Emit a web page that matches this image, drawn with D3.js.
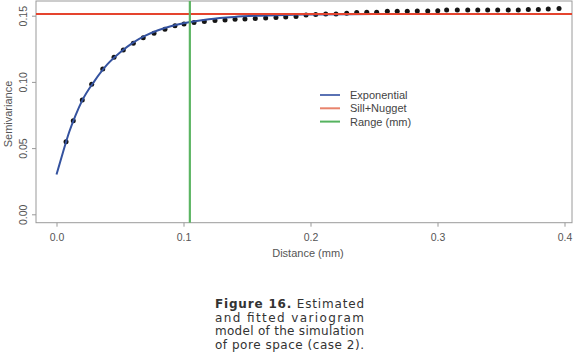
<!DOCTYPE html>
<html>
<head>
<meta charset="utf-8">
<script src="https://cdn.jsdelivr.net/npm/d3@7"></script>
<style>
  body { margin: 0; background: #fff; }
  svg { display: block; }
</style>
</head>
<body>
<div id="chart-area"></div>
<script>
// empirical semivariance (dots)
var lagDist = [0.0075, 0.0132, 0.0203, 0.0277, 0.0364, 0.0453, 0.0526, 0.0605, 0.0683, 0.0768,
  0.0854, 0.0933, 0.1004, 0.1083, 0.1164, 0.1248, 0.1327, 0.1406, 0.1484, 0.1565,
  0.1647, 0.1728, 0.1805, 0.1886, 0.1965, 0.2041, 0.2120, 0.2201, 0.2285, 0.2364,
  0.2443, 0.2521, 0.2605, 0.2683, 0.2762, 0.2841, 0.2923, 0.3002, 0.3072, 0.3156,
  0.3238, 0.3317, 0.3395, 0.3474, 0.3557, 0.3636, 0.3715, 0.3794, 0.3872, 0.3957];
var lagGamma = [0.0548, 0.0707, 0.0863, 0.0982, 0.1097, 0.1186, 0.1241, 0.1292, 0.1334, 0.1367,
  0.1397, 0.1424, 0.1437, 0.1449, 0.1456, 0.1464, 0.1468, 0.1473, 0.1475, 0.1479,
  0.1483, 0.1486, 0.1490, 0.1494, 0.1505, 0.1510, 0.1513, 0.1513, 0.1518, 0.1524,
  0.1526, 0.1526, 0.1533, 0.1533, 0.1533, 0.1535, 0.1535, 0.1538, 0.1543, 0.1543,
  0.1543, 0.1543, 0.1543, 0.1543, 0.1543, 0.1543, 0.1547, 0.1547, 0.1550, 0.1554];

// fitted exponential model
var fitDist = [0, 0.005, 0.01, 0.015, 0.02, 0.03, 0.04, 0.05, 0.06, 0.07, 0.08, 0.09, 0.10,
  0.12, 0.14, 0.16, 0.18, 0.20, 0.25, 0.30, 0.40];
var fitGamma = [0.0300, 0.0465, 0.0622, 0.0748, 0.0855, 0.1008, 0.1132, 0.1222, 0.1295, 0.1349,
  0.1390, 0.1420, 0.1443, 0.1474, 0.1491, 0.1500, 0.1506, 0.1509, 0.1512, 0.1513, 0.1513];

var sillNugget = 0.1513;
var rangeMm = 0.105;

var xTicks = [0, 0.1, 0.2, 0.3, 0.4];
var yTicks = [0, 0.05, 0.10, 0.15];

var legendNames = ["Exponential", "Sill+Nugget", "Range (mm)"];
var legendColors = ["#5a72b4", "#e8836c", "#55b35f"];

var captionLines = ["Estimated", "and fitted variogram", "model of the simulation", "of pore space (case 2)."];

var width = 580, height = 356;
var box = { left: 36, right: 572, top: 1, bottom: 222.7 };

var svg = d3.select("#chart-area").append("svg")
    .attr("width", width)
    .attr("height", height)
    .style("font-family", "'Liberation Sans', Arial, sans-serif");

var x = d3.scaleLinear().domain([0, 0.4]).range([56.5, 564.5]);
var y = d3.scaleLinear().domain([0, 0.15]).range([214.3, 15.7]);

// axes
var xAxis = svg.append("g")
    .attr("transform", `translate(0,${box.bottom})`)
    .call(d3.axisBottom(x).tickValues(xTicks).tickFormat(d3.format(".1f")).tickSize(4).tickPadding(7));
var yAxis = svg.append("g")
    .attr("transform", `translate(${box.left},0)`)
    .call(d3.axisLeft(y).tickValues(yTicks).tickFormat(d3.format(".2f")).tickSize(4));

[xAxis, yAxis].forEach(ax => {
    ax.select(".domain").remove();
    ax.selectAll("line").attr("stroke", "#999");
    ax.selectAll("text").attr("fill", "#555").attr("font-size", "10.5px")
        .style("font-family", "'Liberation Sans', Arial, sans-serif");
});
yAxis.selectAll("text")
    .attr("transform", "rotate(-90)")
    .attr("x", 0).attr("y", -9).attr("dy", 0)
    .attr("text-anchor", "middle");

// plot box
svg.append("rect")
    .attr("x", box.left).attr("y", box.top)
    .attr("width", box.right - box.left).attr("height", box.bottom - box.top)
    .attr("fill", "none").attr("stroke", "#9a9a9a").attr("stroke-width", 1);

// axis titles
svg.append("text").attr("x", 308).attr("y", 257).attr("text-anchor", "middle")
    .attr("font-size", "11px").attr("fill", "#555").text("Distance (mm)");
svg.append("text").attr("transform", "rotate(-90)").attr("x", -114).attr("y", 12)
    .attr("text-anchor", "middle").attr("font-size", "11px").attr("fill", "#555").text("Semivariance");

// dots
svg.append("g").selectAll("circle")
    .data(lagDist.map((d, i) => ({ d: d, g: lagGamma[i] })))
    .enter().append("circle")
    .attr("cx", p => x(p.d))
    .attr("cy", p => y(p.g))
    .attr("r", 2.5)
    .attr("fill", "#151515");

// fitted curve
var line = d3.line().x(p => x(p.d)).y(p => y(p.g)).curve(d3.curveMonotoneX);
svg.append("path")
    .datum(fitDist.map((d, i) => ({ d: d, g: fitGamma[i] })))
    .attr("d", line)
    .attr("fill", "none")
    .attr("stroke", "#34529f")
    .attr("stroke-width", 2);

// sill + nugget
svg.append("line")
    .attr("x1", box.left).attr("x2", box.right)
    .attr("y1", y(sillNugget)).attr("y2", y(sillNugget))
    .attr("stroke", "#e5442e").attr("stroke-width", 2);

// range
svg.append("line")
    .attr("x1", x(rangeMm)).attr("x2", x(rangeMm))
    .attr("y1", box.top).attr("y2", box.bottom)
    .attr("stroke", "#5cb563").attr("stroke-width", 2.2);

// legend
var legend = svg.append("g").attr("transform", "translate(320,95)");
legendNames.forEach((name, i) => {
    var row = legend.append("g").attr("transform", `translate(0,${i * 13.3})`);
    row.append("line").attr("x1", 0).attr("x2", 20).attr("y1", 0).attr("y2", 0)
        .attr("stroke", legendColors[i]).attr("stroke-width", 2);
    row.append("text").attr("x", 30).attr("y", 4).attr("font-size", "11px")
        .attr("fill", "#444").text(name);
});

// caption
var cap = svg.append("g").style("font-family", "'DejaVu Sans', Verdana, sans-serif")
    .attr("font-size", "12px").attr("fill", "#333");
var first = cap.append("text").attr("x", 215).attr("y", 307.5)
    .attr("textLength", 149).attr("lengthAdjust", "spacing");
first.append("tspan").attr("font-weight", "bold").text("Figure 16.");
first.append("tspan").text(" " + captionLines[0]);
captionLines.slice(1).forEach((t, i) => {
    cap.append("text").attr("x", 215).attr("y", 321.5 + i * 13.5)
        .attr("textLength", 149).attr("lengthAdjust", "spacing").text(t);
});
</script>
</body>
</html>
